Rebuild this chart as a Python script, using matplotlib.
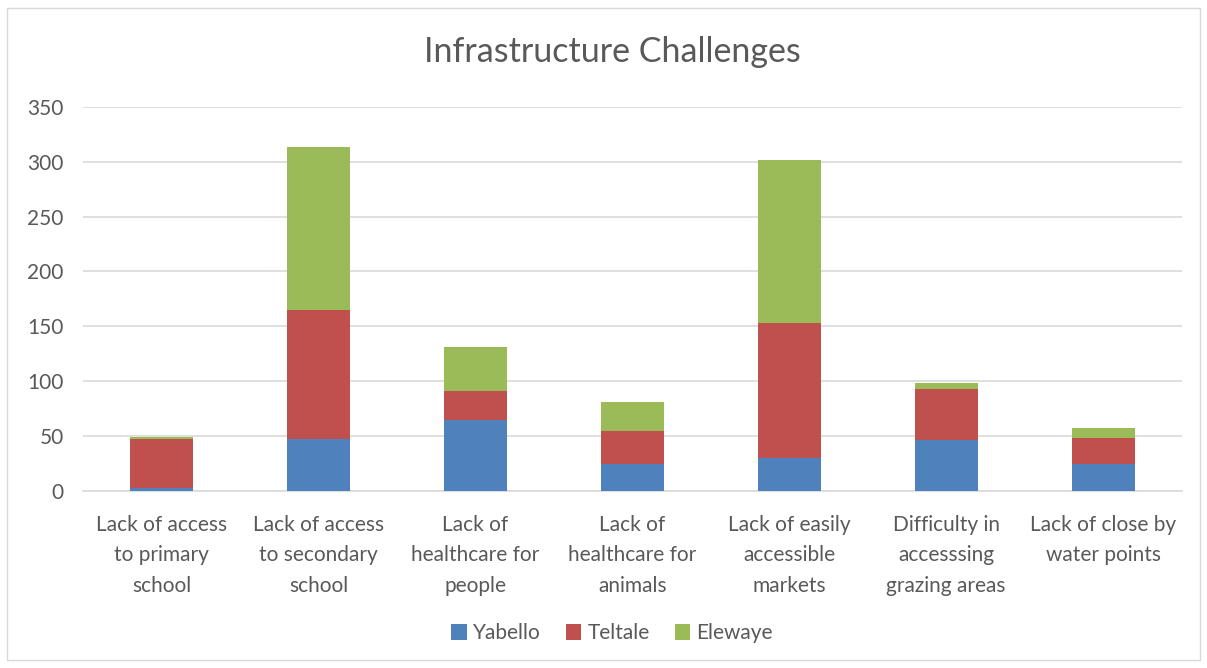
import matplotlib
matplotlib.use("Agg")
import matplotlib.pyplot as plt
from matplotlib.patches import Rectangle
import numpy as np

categories = [
    "Lack of access\nto primary\nschool",
    "Lack of access\nto secondary\nschool",
    "Lack of\nhealthcare for\npeople",
    "Lack of\nhealthcare for\nanimals",
    "Lack of easily\naccessible\nmarkets",
    "Difficulty in\naccesssing\ngrazing areas",
    "Lack of close by\nwater points",
]
yabello = [3, 47, 65, 25, 30, 46, 25]
teltale = [44, 118, 26, 30, 123, 47, 23]
elewaye = [2, 148, 40, 26, 149, 5, 9]
series_names = ["Yabello", "Teltale", "Elewaye"]
yticks = [0, 50, 100, 150, 200, 250, 300, 350]

colors = ["#4F81BD", "#C0504D", "#9BBB59"]
text_color = "#595959"
plt.rcParams['font.family'] = ['Lato', 'DejaVu Sans']

fig = plt.figure(figsize=(12.07, 6.68), dpi=100)
ax = fig.add_axes([0.0688, 0.265, 0.9102, 0.575])

x = np.arange(len(categories))
w = 0.4
b1 = ax.bar(x, yabello, w, color=colors[0], label=series_names[0], zorder=3)
b2 = ax.bar(x, teltale, w, bottom=yabello, color=colors[1], label=series_names[1], zorder=3)
bottom3 = np.array(yabello) + np.array(teltale)
b3 = ax.bar(x, elewaye, w, bottom=bottom3, color=colors[2], label=series_names[2], zorder=3)

ax.set_xlim(-0.5, len(categories) - 0.5)
ax.set_ylim(0, 350)
ax.set_yticks(yticks)
ax.yaxis.grid(True, color="#D9D9D9", linewidth=1.2, zorder=0)
ax.set_axisbelow(True)
for s in ["top", "right", "left"]:
    ax.spines[s].set_visible(False)
ax.spines["bottom"].set_color("#D9D9D9")
ax.spines["bottom"].set_linewidth(1.2)
ax.tick_params(axis="both", length=0, colors=text_color, labelsize=15)
ax.tick_params(axis="y", pad=14)
ax.tick_params(axis="x", pad=17)
ax.set_xticks(x)
ax.set_xticklabels(categories, linespacing=1.66)

fig.text(0.507, 0.922, "Infrastructure Challenges", ha="center", va="center",
         fontsize=24.5, color=text_color)

leg = fig.legend(handles=[b1, b2, b3], labels=series_names, loc="center",
                 bbox_to_anchor=(0.507, 0.052), ncol=3, frameon=False,
                 fontsize=15, handlelength=0.75, handleheight=0.75,
                 columnspacing=1.2, handletextpad=0.3)
for t in leg.get_texts():
    t.set_color(text_color)

fig.patches.append(Rectangle((0.006, 0.012), 0.988, 0.976, transform=fig.transFigure,
                             fill=False, edgecolor="#D9D9D9", linewidth=1.0))

fig.savefig("out.png", dpi=100)
